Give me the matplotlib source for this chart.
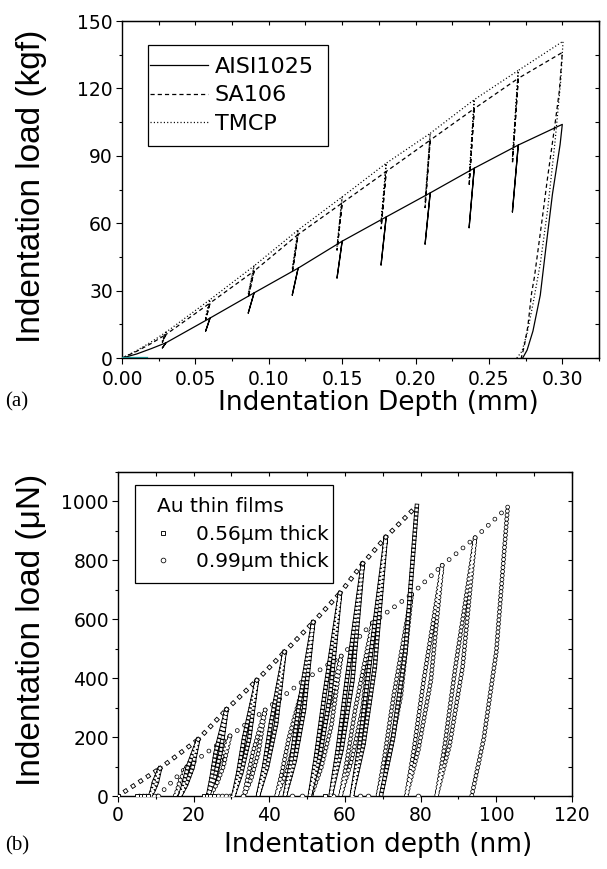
import matplotlib
matplotlib.use('Agg')
import matplotlib.pyplot as plt
from matplotlib.ticker import MultipleLocator, NullFormatter, FormatStrFormatter
from matplotlib.lines import Line2D
from matplotlib.patches import Rectangle

plt.rcParams['font.family'] = 'DejaVu Sans'
plt.rcParams['lines.scale_dashes'] = False

# ---------------- (a) steels, load in kgf vs depth in mm ----------------
cycle_h = [0.030, 0.060, 0.090, 0.120, 0.150, 0.180, 0.210, 0.240, 0.270]
cycle_low_h = [0.0275, 0.0570, 0.0860, 0.1160, 0.1465, 0.1765, 0.2065, 0.2365, 0.2660]

aisi_start_h = [0.0, 0.010, 0.020]
aisi_start_p = [0.0, 1.8, 4.2]
aisi_top = [6.8, 17.8, 29.0, 40.0, 52.0, 62.8, 73.5, 84.5, 94.8]
aisi_bot = [4.5, 12.0, 20.0, 28.0, 35.6, 41.4, 50.7, 58.0, 65.0]
aisi_unl_h = [0.300, 0.2985, 0.2933, 0.2889, 0.2850, 0.2800, 0.2760, 0.2730]
aisi_unl_p = [104.0, 95.0, 73.0, 49.5, 28.0, 12.0, 3.5, 0.0]

sa_start_h = [0.0, 0.010, 0.020]
sa_start_p = [0.0, 3.0, 6.5]
sa_top = [10.5, 24.5, 38.7, 55.0, 69.0, 83.0, 97.0, 111.0, 124.5]
sa_bot = [7.0, 17.0, 27.0, 38.0, 48.0, 57.5, 67.0, 76.5, 86.5]
sa_unl_h = [0.300, 0.298, 0.2950, 0.2896, 0.2862, 0.2810, 0.2791, 0.2765, 0.2740, 0.2720]
sa_unl_p = [136.0, 119.0, 104.0, 78.5, 61.4, 36.0, 29.0, 14.0, 5.0, 0.0]

tm_start_h = [0.0, 0.010, 0.020]
tm_start_p = [0.0, 3.3, 7.2]
tm_top = [11.5, 26.0, 41.0, 57.0, 71.7, 86.7, 100.0, 115.0, 128.0]
tm_bot = [7.5, 18.0, 28.5, 39.5, 49.5, 60.0, 69.5, 79.5, 88.5]
tm_unl_h = [0.3005, 0.2990, 0.2950, 0.2900, 0.2850, 0.2800, 0.2760, 0.2725, 0.2690]
tm_unl_p = [141.0, 124.0, 96.0, 66.0, 42.0, 24.0, 11.0, 3.0, 0.0]

teal_h = [0.0, 0.017]
teal_p = [0.0, 0.0]

# ---------------- (b) Au films, load in uN vs depth in nm ----------------
sq_contact_h = 0.0
sq_peak_h = [11.1, 21.2, 28.7, 36.7, 44.0, 51.6, 58.7, 64.7, 70.8, 79.0]
sq_peak_p = [94, 192, 294, 393, 489, 590, 689, 789, 879, 985]
sq_mid_p = [47, 96, 147, 196, 245, 295, 345, 395, 440, 492]
sq_mid_unl = [10.3, 19.7, 27.1, 34.7, 41.8, 49.2, 56.1, 62.0, 67.9, 76.0]
sq_mid_rel = [9.5, 18.4, 25.8, 33.3, 40.4, 47.7, 54.6, 60.5, 66.4]
sq_low_p = [19, 38, 59, 79, 98, 118, 138, 158, 176, 197]
sq_low_unl = [9.4, 18.0, 25.5, 32.6, 39.4, 46.7, 53.4, 59.1, 64.9, 72.7]
sq_low_rel = [9.0, 17.3, 24.7, 31.8, 38.6, 45.8, 52.4, 58.1, 63.9]
sq_end_h = [8.5, 16.4, 23.8, 30.5, 37.0, 44.1, 50.7, 56.2, 61.8, 69.5]
sq_zero_h = [0.0, 5.0, 6.0, 7.0, 8.0, 22.7, 23.5, 24.3, 25.3, 54.7]

ci_contact_h = 10.5
ci_peak_h = [18.2, 29.6, 38.9, 49.4, 59.0, 67.3, 77.6, 85.7, 94.4, 103.0]
ci_peak_p = [99, 204, 292, 395, 475, 588, 685, 783, 877, 981]
ci_mid_p = [50, 102, 146, 198, 238, 294, 343, 392, 439, 490]
ci_mid_unl = [17.2, 27.9, 37.1, 47.0, 56.4, 64.6, 74.8, 82.7, 91.1, 100.0]
ci_mid_rel = [16.3, 26.5, 35.6, 45.2, 54.6, 62.7, 72.9, 80.8, 89.2]
ci_low_p = [20, 41, 58, 79, 95, 118, 137, 157, 175, 196]
ci_low_unl = [16.2, 26.1, 35.2, 44.5, 53.7, 61.7, 71.7, 79.4, 87.7, 96.7]
ci_low_rel = [15.7, 25.2, 34.2, 43.3, 52.5, 60.5, 70.5, 78.2, 86.4]
ci_end_h = [15.1, 24.3, 33.3, 41.9, 51.0, 58.8, 68.7, 76.2, 84.2, 93.5]
ci_zero_h = [0.0, 5.5, 6.5, 7.5, 8.5, 9.5, 10.5, 26.5, 27.5, 28.5, 29.5, 30.2,
             33.0, 45.9, 48.6, 56.8, 61.8, 64.0, 66.1, 79.3]


def steel_path(start_h, start_p, top, bot, unl_h, unl_p):
    h = list(start_h)
    p = list(start_p)
    for i in range(len(cycle_h)):
        h += [cycle_h[i], cycle_low_h[i], cycle_h[i]]
        p += [top[i], bot[i], top[i]]
    return h + unl_h, p + unl_p


def chain(ax, h, p, marker, gap, size, edge):
    # open markers strung along the path by a dash pattern
    cap = 'round' if marker == 'o' else 'projecting'
    ax.plot(h, p, color='black', lw=size, ls=(0, (0.01, gap)),
            dash_capstyle=cap, zorder=3)
    ax.plot(h, p, color='white', lw=size - edge, ls=(0, (0.01, gap)),
            dash_capstyle=cap, zorder=3)


def film(ax, contact_h, peak_h, peak_p, mid_p, mid_unl, mid_rel, low_p, low_unl,
         low_rel, end_h, zero_h, marker, size, edge):
    prev_h, prev_p = contact_h, 0.0
    for i in range(len(peak_h)):
        chain(ax, [prev_h, peak_h[i]], [prev_p, peak_p[i]], marker, 6.5, size, edge)
        h = [peak_h[i], mid_unl[i], low_unl[i], end_h[i]]
        p = [peak_p[i], mid_p[i], low_p[i], 0]
        if i < len(mid_rel):
            h += [low_rel[i], mid_rel[i], peak_h[i]]
            p += [low_p[i], mid_p[i], peak_p[i]]
        chain(ax, h, p, marker, 2.9, size, edge)
        prev_h, prev_p = peak_h[i], peak_p[i]
    ax.plot(zero_h, [0] * len(zero_h), ls='none', marker=marker, ms=size,
            mfc='white', mec='black', mew=edge / 2, zorder=3)


def inner_ticks(ax, xstep, ystep):
    top = ax.secondary_xaxis('top')
    top.xaxis.set_major_locator(MultipleLocator(xstep))
    top.xaxis.set_major_formatter(NullFormatter())
    top.tick_params(direction='in', length=3.2, width=0.8)
    right = ax.secondary_yaxis('right')
    right.yaxis.set_major_locator(MultipleLocator(ystep))
    right.yaxis.set_major_formatter(NullFormatter())
    right.tick_params(direction='in', length=3.2, width=0.8)


def style(ax, xmaj, xmin, ymaj, ymin, xpad):
    ax.xaxis.set_major_locator(MultipleLocator(xmaj))
    ax.xaxis.set_minor_locator(MultipleLocator(xmin))
    ax.yaxis.set_major_locator(MultipleLocator(ymaj))
    ax.yaxis.set_minor_locator(MultipleLocator(ymin))
    ax.tick_params(which='major', direction='out', length=4.5, width=0.8,
                   labelsize=13.5, pad=2)
    ax.tick_params(axis='x', which='major', pad=xpad)
    ax.tick_params(which='minor', direction='out', length=2.5, width=0.8)
    for s in ax.spines.values():
        s.set_linewidth(1.0)
    inner_ticks(ax, xmin, ymin)


def box(ax, x0, y0, x1, y1):
    ax.add_patch(Rectangle((x0, y0), x1 - x0, y1 - y0, transform=ax.transAxes,
                           fill=False, edgecolor='black', lw=0.9, zorder=5))


fig = plt.figure(figsize=(6.07, 8.69), dpi=100)

# ---- panel (a)
ax1 = fig.add_axes([0.2010, 0.5880, 0.7858, 0.3878])
h, p = steel_path(aisi_start_h, aisi_start_p, aisi_top, aisi_bot, aisi_unl_h, aisi_unl_p)
ax1.plot(h, p, color='black', lw=0.9, label='AISI1025')
h, p = steel_path(sa_start_h, sa_start_p, sa_top, sa_bot, sa_unl_h, sa_unl_p)
ax1.plot(h, p, color='black', lw=0.9, ls=(0, (3.0, 2.2)), label='SA106')
h, p = steel_path(tm_start_h, tm_start_p, tm_top, tm_bot, tm_unl_h, tm_unl_p)
ax1.plot(h, p, color='black', lw=0.9, ls=(0, (0.8, 1.6)), label='TMCP')
ax1.plot(teal_h, teal_p, color='#1a8c8c', lw=1.6, zorder=4)
ax1.set_xlim(0, 0.325)
ax1.set_ylim(0, 150)
style(ax1, 0.05, 0.025, 30, 15, 4)
ax1.xaxis.set_major_formatter(FormatStrFormatter('%.2f'))
ax1.legend(loc='upper left', bbox_to_anchor=(0.0587, 0.893), borderaxespad=0,
           fontsize=16, frameon=False, handlelength=2.6, handletextpad=0.31,
           labelspacing=0.37, borderpad=0)
box(ax1, 0.0545, 0.629, 0.4319, 0.9288)

fig.text(0.623, 1 - 403 / 869, 'Indentation Depth (mm)', fontsize=19,
         ha='center', va='center')
fig.text(0.052, 1 - 186 / 869, 'Indentation load (kgf)', fontsize=24,
         family='Liberation Sans', rotation=90, ha='center', va='center')
fig.text(0.008, 1 - 406 / 869, '(a)', fontsize=15, family='Liberation Serif',
         ha='left', va='baseline')

# ---- panel (b)
ax2 = fig.add_axes([0.1944, 0.0840, 0.7479, 0.3728])
film(ax2, ci_contact_h, ci_peak_h, ci_peak_p, ci_mid_p, ci_mid_unl, ci_mid_rel,
     ci_low_p, ci_low_unl, ci_low_rel, ci_end_h, ci_zero_h, 'o', 3.4, 1.1)
film(ax2, sq_contact_h, sq_peak_h, sq_peak_p, sq_mid_p, sq_mid_unl, sq_mid_rel,
     sq_low_p, sq_low_unl, sq_low_rel, sq_end_h, sq_zero_h, 's', 3.2, 1.3)
ax2.set_xlim(0, 120)
ax2.set_ylim(0, 1100)
style(ax2, 20, 10, 200, 100, 2.5)
handles = [Line2D([], [], ls='none', marker='s', ms=3.2, mfc='white', mec='black', mew=0.65),
           Line2D([], [], ls='none', marker='o', ms=3.4, mfc='white', mec='black', mew=0.55)]
ax2.legend(handles, ['0.56\u03bcm thick', '0.99\u03bcm thick'], title='Au thin films',
           loc='upper left', bbox_to_anchor=(0.0859, 0.923), borderaxespad=0,
           fontsize=14.5, title_fontsize=14.5, frameon=False, handlelength=0.6,
           handletextpad=1.34, labelspacing=0.43, borderpad=0, alignment='left')
box(ax2, 0.0374, 0.6574, 0.4736, 0.9599)

fig.text(0.623, 1 - 845 / 869, 'Indentation depth (nm)', fontsize=19,
         ha='center', va='center')
fig.text(0.052, 1 - 630 / 869, 'Indentation load (\u03bcN)', fontsize=24,
         family='Liberation Sans', rotation=90, ha='center', va='center')
fig.text(0.008, 1 - 850 / 869, '(b)', fontsize=15, family='Liberation Serif',
         ha='left', va='baseline')

fig.savefig('out.png', dpi=100)
